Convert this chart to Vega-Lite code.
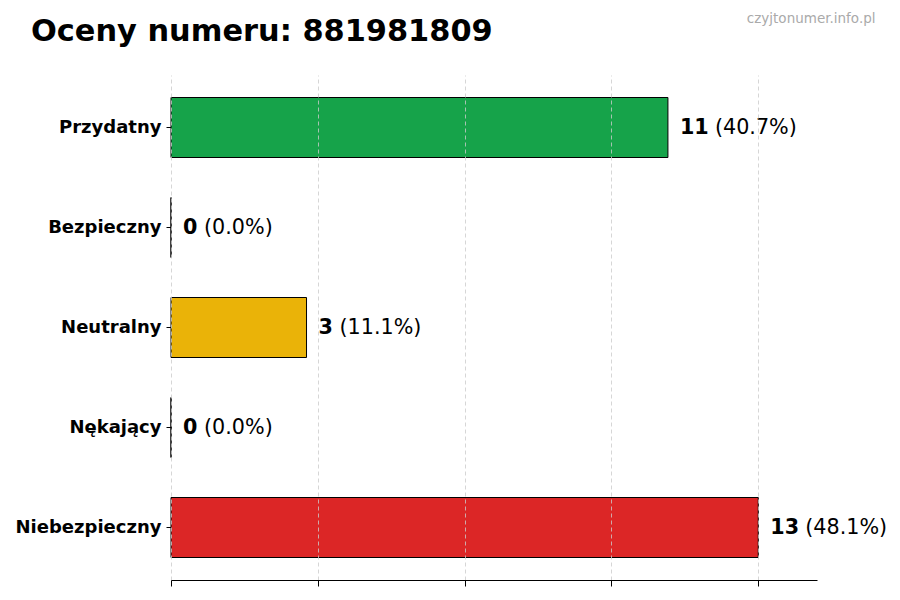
{
  "$schema": "https://vega.github.io/schema/vega-lite/v6.json",
  "width": 646,
  "height": 505,
  "autosize": "none",
  "padding": {"left": 171, "top": 75, "right": 83, "bottom": 20},
  "background": "white",
  "config": {
    "view": {"stroke": null},
    "font": "DejaVu Sans"
  },
  "title": {
    "text": "Oceny numeru: 881981809",
    "fontSize": 30.4,
    "fontWeight": "bold",
    "color": "black",
    "anchor": "start",
    "frame": "group",
    "baseline": "alphabetic",
    "dx": -140,
    "offset": -60
  },
  "data": {
    "values": [
      {"category": "Przydatny", "count": 11, "share": 40.7},
      {"category": "Bezpieczny", "count": 0, "share": 0.0},
      {"category": "Neutralny", "count": 3, "share": 11.1},
      {"category": "Nękający", "count": 0, "share": 0.0},
      {"category": "Niebezpieczny", "count": 13, "share": 48.1}
    ]
  },
  "transform": [
    {"calculate": "'(' + format(datum.share, '.1f') + '%)'", "as": "share_label"}
  ],
  "encoding": {
    "y": {
      "field": "category",
      "type": "nominal",
      "sort": null,
      "scale": {"paddingInner": 0.4, "paddingOuter": 0.225},
      "axis": {
        "domain": false,
        "ticks": true,
        "tickColor": "black",
        "tickSize": 5,
        "labelPadding": 5,
        "labelFontSize": 18,
        "labelFontWeight": "bold",
        "labelColor": "black",
        "title": "czyjtonumer.info.pl",
        "titleAngle": 0,
        "titleX": 704,
        "titleY": -53,
        "titleAlign": "right",
        "titleBaseline": "alphabetic",
        "titleFontSize": 13.5,
        "titleFontWeight": "normal",
        "titleColor": "#aaaaaa"
      }
    },
    "x": {
      "field": "count",
      "type": "quantitative",
      "scale": {"domain": [0, 14.3], "nice": false, "zero": true},
      "axis": {
        "values": [0, 3.25, 6.5, 9.75, 13],
        "labels": false,
        "title": null,
        "domainColor": "black",
        "tickColor": "black",
        "tickSize": 6,
        "grid": true,
        "gridColor": "#cccccc",
        "gridDash": [4, 3],
        "gridWidth": 0.8,
        "zindex": 1
      }
    }
  },
  "layer": [
    {
      "mark": {"type": "bar", "stroke": "black", "strokeWidth": 1},
      "encoding": {
        "color": {
          "field": "category",
          "type": "nominal",
          "legend": null,
          "scale": {
            "domain": ["Przydatny", "Bezpieczny", "Neutralny", "Nękający", "Niebezpieczny"],
            "range": ["#16a34a", "#2563eb", "#eab308", "#f97316", "#dc2626"]
          }
        }
      }
    },
    {
      "mark": {"type": "text", "align": "left", "baseline": "middle", "dx": 12, "fontSize": 20.7, "fontWeight": "bold", "color": "black"},
      "encoding": {"text": {"field": "count", "type": "quantitative"}}
    },
    {
      "mark": {"type": "text", "align": "left", "baseline": "middle", "dx": {"expr": "datum.count >= 10 ? 47 : 33"}, "fontSize": 20.7, "color": "black"},
      "encoding": {"text": {"field": "share_label", "type": "nominal"}}
    }
  ]
}
